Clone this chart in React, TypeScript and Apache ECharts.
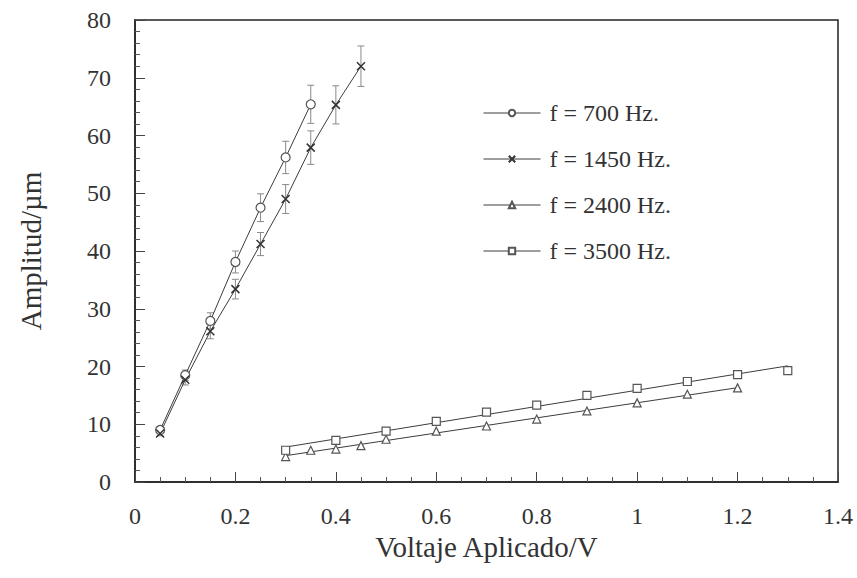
import React, { useEffect, useRef } from "react";
import * as echarts from "echarts";

const X700 = [0.05, 0.1, 0.15, 0.2, 0.25, 0.3, 0.35];
const Y700 = [9.0, 18.5, 27.9, 38.1, 47.5, 56.2, 65.4];
const E700 = [0.5, 0.9, 1.4, 1.9, 2.4, 2.8, 3.3];

const X1450 = [0.05, 0.1, 0.15, 0.2, 0.25, 0.3, 0.35, 0.4, 0.45];
const Y1450 = [8.4, 17.7, 26.1, 33.4, 41.2, 49.0, 57.9, 65.3, 72.0];
const E1450 = [0.4, 0.9, 1.3, 1.7, 2.0, 2.5, 2.9, 3.3, 3.5];

const X2400 = [0.3, 0.35, 0.4, 0.45, 0.5, 0.6, 0.7, 0.8, 0.9, 1.0, 1.1, 1.2];
const Y2400 = [4.4, 5.5, 5.7, 6.3, 7.4, 8.8, 9.7, 10.9, 12.3, 13.7, 15.2, 16.3];

const X3500 = [0.3, 0.4, 0.5, 0.6, 0.7, 0.8, 0.9, 1.0, 1.1, 1.2, 1.3];
const Y3500 = [5.5, 7.2, 8.8, 10.5, 12.1, 13.3, 15.0, 16.2, 17.4, 18.6, 19.3];

const NAMES = ["f = 700 Hz.", "f = 1450 Hz.", "f = 2400 Hz.", "f = 3500 Hz."];
const X_TITLE = "Voltaje Aplicado/V";
const Y_TITLE = "Amplitud/µm";

const FONT = "Liberation Serif, Times New Roman, serif";
const INK = "#333";
const LINE = "#3c3c3c";
const MARK = "#555";
const ERR = "#8a8a8a";

function fit(xs: number[], ys: number[]): number[][] {
  const n = xs.length;
  const mx = xs.reduce((a, b) => a + b, 0) / n;
  const my = ys.reduce((a, b) => a + b, 0) / n;
  let sxy = 0;
  let sxx = 0;
  for (let i = 0; i < n; i++) {
    sxy += (xs[i] - mx) * (ys[i] - my);
    sxx += (xs[i] - mx) * (xs[i] - mx);
  }
  const b = sxy / sxx;
  const a = my - b * mx;
  const x0 = Math.min(...xs);
  const x1 = Math.max(...xs);
  return [
    [x0, a + b * x0],
    [x1, a + b * x1],
  ];
}

const pairs = (xs: number[], ys: number[]) => xs.map((x, i) => [x, ys[i]]);
const errs = (xs: number[], ys: number[], es: number[]) =>
  xs.map((x, i) => [x, ys[i] - es[i], ys[i] + es[i]]);

const renderErr = (params: any, api: any) => {
  const x = api.value(0);
  const lo = api.coord([x, api.value(1)]);
  const hi = api.coord([x, api.value(2)]);
  const w = 3.5;
  const style = { stroke: ERR, lineWidth: 1 };
  return {
    type: "group",
    children: [
      { type: "line", shape: { x1: lo[0], y1: lo[1], x2: hi[0], y2: hi[1] }, style },
      { type: "line", shape: { x1: lo[0] - w, y1: lo[1], x2: lo[0] + w, y2: lo[1] }, style },
      { type: "line", shape: { x1: hi[0] - w, y1: hi[1], x2: hi[0] + w, y2: hi[1] }, style },
    ],
  };
};

export default function App() {
  const ref = useRef<HTMLDivElement>(null);
  useEffect(() => {
    if (!ref.current) return;
    const chart = echarts.init(ref.current, undefined, { renderer: "svg" });
    const hollow = { color: "#fff", borderColor: MARK, borderWidth: 1.2 };
    const option: any = {
      animation: false,
      backgroundColor: "#fff",
      textStyle: { fontFamily: FONT },
      grid: {
        left: 135,
        right: 19,
        top: 20,
        bottom: 96,
        show: true,
        borderColor: "#222",
        borderWidth: 1.5,
        backgroundColor: "transparent",
      },
      legend: {
        orient: "vertical",
        left: 478,
        top: 96,
        itemWidth: 57,
        itemHeight: 8,
        itemGap: 22,
        data: NAMES,
        textStyle: { fontFamily: FONT, fontSize: 24, color: INK, padding: [0, 0, 0, 4] },
        lineStyle: { color: LINE, width: 1, opacity: 1 },
      },
      xAxis: {
        type: "value",
        min: 0,
        max: 1.4,
        interval: 0.2,
        name: X_TITLE,
        nameLocation: "middle",
        nameGap: 43,
        nameTextStyle: { fontFamily: FONT, fontSize: 29, color: INK },
        axisLine: { show: true, lineStyle: { color: "#222", width: 1.5 } },
        axisTick: { show: true, inside: true, length: 10, lineStyle: { color: "#444" } },
        minorTick: { show: true, splitNumber: 4, length: 5, lineStyle: { color: "#555" } },
        axisLabel: { fontFamily: FONT, fontSize: 24, color: INK, margin: 22 },
        splitLine: { show: false },
      },
      yAxis: {
        type: "value",
        min: 0,
        max: 80,
        interval: 10,
        name: Y_TITLE,
        nameLocation: "middle",
        nameGap: 90,
        nameTextStyle: { fontFamily: FONT, fontSize: 29, color: INK },
        axisLine: { show: true, lineStyle: { color: "#222", width: 1.5 } },
        axisTick: { show: true, inside: true, length: 10, lineStyle: { color: "#444" } },
        minorTick: { show: true, splitNumber: 5, length: 5, lineStyle: { color: "#555" } },
        axisLabel: { fontFamily: FONT, fontSize: 24, color: INK, margin: 24 },
        splitLine: { show: false },
      },
      series: [
        {
          type: "custom",
          name: "err700",
          renderItem: renderErr,
          data: errs(X700, Y700, E700),
          encode: { x: 0, y: [1, 2] },
          z: 1,
        },
        {
          type: "custom",
          name: "err1450",
          renderItem: renderErr,
          data: errs(X1450, Y1450, E1450),
          encode: { x: 0, y: [1, 2] },
          z: 1,
        },
        {
          type: "line",
          name: NAMES[0],
          data: pairs(X700, Y700),
          symbol: "circle",
          symbolSize: 9,
          itemStyle: hollow,
          lineStyle: { color: LINE, width: 1 },
          z: 3,
        },
        {
          type: "line",
          name: NAMES[1],
          data: pairs(X1450, Y1450),
          symbol: "path://M0,0L10,10M10,0L0,10",
          symbolSize: 8,
          itemStyle: { color: "transparent", borderColor: "#333", borderWidth: 1.5 },
          lineStyle: { color: LINE, width: 1 },
          z: 3,
        },
        {
          type: "line",
          name: "fit2400",
          data: fit(X2400, Y2400),
          symbol: "none",
          lineStyle: { color: LINE, width: 1 },
          z: 2,
        },
        {
          type: "line",
          name: "fit3500",
          data: fit(X3500, Y3500),
          symbol: "none",
          lineStyle: { color: LINE, width: 1 },
          z: 2,
        },
        {
          type: "line",
          name: NAMES[2],
          data: pairs(X2400, Y2400),
          symbol: "triangle",
          symbolSize: 8,
          itemStyle: hollow,
          lineStyle: { color: LINE, width: 1, opacity: 0 },
          z: 3,
        },
        {
          type: "line",
          name: NAMES[3],
          data: pairs(X3500, Y3500),
          symbol: "rect",
          symbolSize: 8,
          itemStyle: hollow,
          lineStyle: { color: LINE, width: 1, opacity: 0 },
          z: 3,
        },
      ],
    };
    chart.setOption(option);
    return () => chart.dispose();
  }, []);
  return (
    <div
      ref={ref}
      style={{ position: "fixed", left: 0, top: 0, width: 857, height: 578, background: "#fff" }}
    />
  );
}
